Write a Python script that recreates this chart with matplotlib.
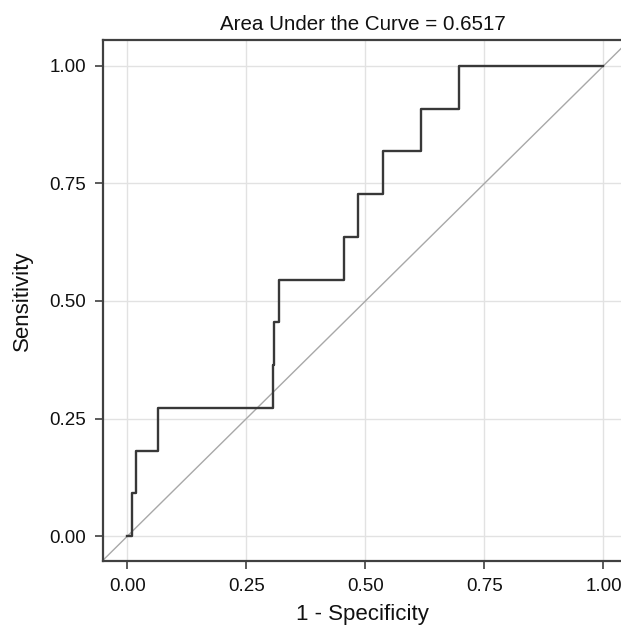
import numpy as np
import matplotlib
matplotlib.use("Agg")
import matplotlib.pyplot as plt

# ROC curve values (11 positives)
fpr = [0.0, 0.009, 0.018, 0.065, 0.306, 0.308, 0.319, 0.455, 0.485, 0.536, 0.617, 0.696, 1.0]
tpr = [0.0, 1/11, 2/11, 3/11, 4/11, 5/11, 6/11, 7/11, 8/11, 9/11, 10/11, 1.0, 1.0]
auc = 0.6517
ticks = [0.0, 0.25, 0.5, 0.75, 1.0]
tick_labels = ["0.00", "0.25", "0.50", "0.75", "1.00"]

plt.rcParams['font.family'] = ['Liberation Sans', 'DejaVu Sans']

fig = plt.figure(figsize=(6.21, 6.28), dpi=100)
W, H = 621, 628
left, right, top, bottom = 102.7, 623, 40, 561
ax = fig.add_axes([left / W, (H - bottom) / H, (right - left) / W, (bottom - top) / H])

ax.set_xlim(-0.052, 1.041)
ax.set_ylim(-0.053, 1.055)

ax.grid(True, color='#e2e2e2', lw=1.0)
ax.set_axisbelow(True)

ax.axline((0, 0), (1, 1), color='#a8a8a8', lw=1.0)
ax.plot(fpr, tpr, drawstyle='steps-post', color='#383838', lw=1.7)

ax.set_xticks(ticks)
ax.set_xticklabels(tick_labels)
ax.set_yticks(ticks)
ax.set_yticklabels(tick_labels)
ax.tick_params(direction='out', length=6, width=1.2, color='#404040',
               labelsize=13.5, pad=6, labelcolor='#111111')

for s in ax.spines.values():
    s.set_color('#404040')
    s.set_linewidth(1.6)
ax.spines['right'].set_visible(False)

ax.set_title(f"Area Under the Curve = {auc:.4f}", fontsize=14.8, pad=7, color='#111111')
ax.set_xlabel("1 - Specificity", fontsize=16, labelpad=7, color='#111111')
ax.set_ylabel("Sensitivity", fontsize=16, labelpad=12, color='#111111')

fig.savefig("out.png", dpi=100)
